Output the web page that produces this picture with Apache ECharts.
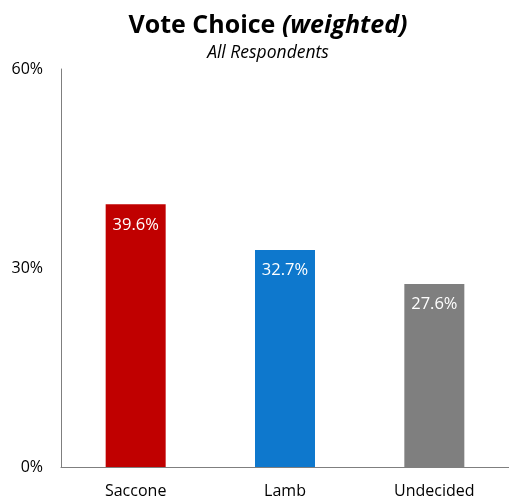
<!DOCTYPE html>
<html><head><meta charset="utf-8">
<script src="https://cdn.jsdelivr.net/npm/echarts@6/dist/echarts.min.js"></script>
<style>html,body{margin:0;padding:0;background:#fff}#c{width:509px;height:500px}</style>
</head><body><div id="c"></div>
<script>
const categories = ['Saccone', 'Lamb', 'Undecided'];
const values = [39.6, 32.7, 27.6];
const colors = ['#C00000', '#0E78CD', '#7F7F7F'];
const yTicks = [0, 30, 60];
const FONT = '"Open Sans", "Noto Sans", sans-serif';
const chart = echarts.init(document.getElementById('c'));
chart.setOption({
  animation: false,
  title: {
    text: '{b|Vote Choice }{i|(weighted)}',
    subtext: 'All Respondents',
    left: 263, textAlign: 'center', top: 8, itemGap: 6,
    textStyle: { rich: {
      b: { fontFamily: FONT, fontWeight: 'bold', fontSize: 25, color: '#000' },
      i: { fontFamily: FONT, fontWeight: 'bold', fontStyle: 'italic', fontSize: 25, color: '#000' }
    }},
    subtextStyle: { fontFamily: FONT, fontStyle: 'italic', fontSize: 17.5, color: '#000' }
  },
  grid: { left: 61, right: -2, top: 69, bottom: 33, containLabel: false },
  xAxis: {
    type: 'category', data: categories,
    axisLine: { lineStyle: { color: '#7f7f7f', width: 1 } },
    axisTick: { show: false },
    axisLabel: { fontFamily: FONT, fontSize: 16, color: '#000', margin: 16 }
  },
  yAxis: {
    type: 'value', min: 0, max: 60, interval: 30,
    axisLine: { show: true, lineStyle: { color: '#7f7f7f', width: 1 } },
    axisTick: { show: false },
    splitLine: { show: false },
    axisLabel: { fontFamily: FONT, fontSize: 16, color: '#000', margin: 18,
      formatter: v => yTicks.includes(v) ? v + '%' : '' }
  },
  series: [{
    type: 'bar', barWidth: 60,
    data: values.map((v, i) => ({ value: v, itemStyle: { color: colors[i] } })),
    label: { show: true, position: 'insideTop', distance: 12, color: '#fff',
      fontFamily: FONT, fontSize: 16.5, formatter: p => p.value.toFixed(1) + '%' }
  }]
});
</script></body></html>
